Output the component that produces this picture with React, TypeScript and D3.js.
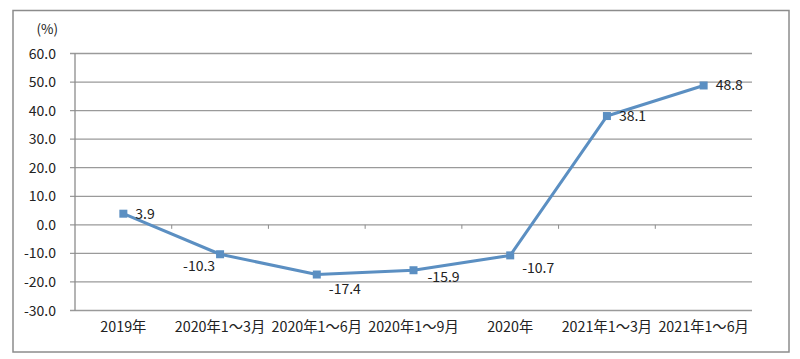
import * as React from "react";
import * as d3 from "d3";

const categories = [
  "2019年",
  "2020年1～3月",
  "2020年1～6月",
  "2020年1～9月",
  "2020年",
  "2021年1～3月",
  "2021年1～6月",
];
const growth = [3.9, -10.3, -17.4, -15.9, -10.7, 38.1, 48.8];
const yTicks = [60, 50, 40, 30, 20, 10, 0, -10, -20, -30];
// label offsets relative to the marker (dx, dy)
const labelOffsets: [number, number][] = [
  [12, 5],
  [-37, 17],
  [12, 19],
  [14, 12],
  [12, 18],
  [12, 5],
  [12, 5],
];

const W = 800;
const H = 359;
const font = "'Noto Sans CJK SC', 'Noto Sans', sans-serif";
const lineColor = "#5b8fc2";

export default function App() {
  const left = 75;
  const right = 752;
  const x = d3.scaleBand().domain(categories).range([left, right]);
  const y = d3.scaleLinear().domain([-30, 60]).range([310.5, 53.5]);
  const cx = (c: string) => (x(c) as number) + x.bandwidth() / 2;

  const line = d3
    .line<number>()
    .x((_, i) => cx(categories[i]))
    .y((d) => y(d));

  const zeroY = y(0);

  return (
    <svg
      width={W}
      height={H}
      style={{ position: "absolute", left: 0, top: 0, background: "#fff" }}
      fontFamily={font}
    >
      <rect x={13} y={10.5} width={776} height={341.5} fill="#fff" stroke="#8c8c8c" strokeWidth={1.5} />
      <text x={58} y={34} fontSize={13.5} textAnchor="end" fill="#222">
        (%)
      </text>
      {yTicks.map((t) => (
        <g key={t}>
          <line x1={70} x2={right} y1={y(t)} y2={y(t)} stroke="#9a9a9a" strokeWidth={1.3} />
          <text x={56} y={y(t) + 5} fontSize={14} textAnchor="end" fill="#222">
            {t.toFixed(1)}
          </text>
        </g>
      ))}
      <line x1={left} x2={left} y1={y(60)} y2={y(-30)} stroke="#8c8c8c" strokeWidth={1.3} />
      {categories.slice(1).map((c) => (
        <line
          key={c}
          x1={x(c) as number}
          x2={x(c) as number}
          y1={zeroY}
          y2={zeroY + 4}
          stroke="#8c8c8c"
          strokeWidth={1}
        />
      ))}
      {categories.map((c) => (
        <text key={c} x={cx(c)} y={332} fontSize={14.3} textAnchor="middle" fill="#222">
          {c}
        </text>
      ))}
      <path d={line(growth) || ""} fill="none" stroke={lineColor} strokeWidth={3} strokeLinejoin="round" />
      {growth.map((v, i) => (
        <rect
          key={i}
          x={cx(categories[i]) - 4}
          y={y(v) - 4}
          width={8}
          height={8}
          fill={lineColor}
        />
      ))}
      {growth.map((v, i) => (
        <text
          key={i}
          x={cx(categories[i]) + labelOffsets[i][0]}
          y={y(v) + labelOffsets[i][1]}
          fontSize={14}
          fill="#222"
        >
          {v.toFixed(1)}
        </text>
      ))}
    </svg>
  );
}
